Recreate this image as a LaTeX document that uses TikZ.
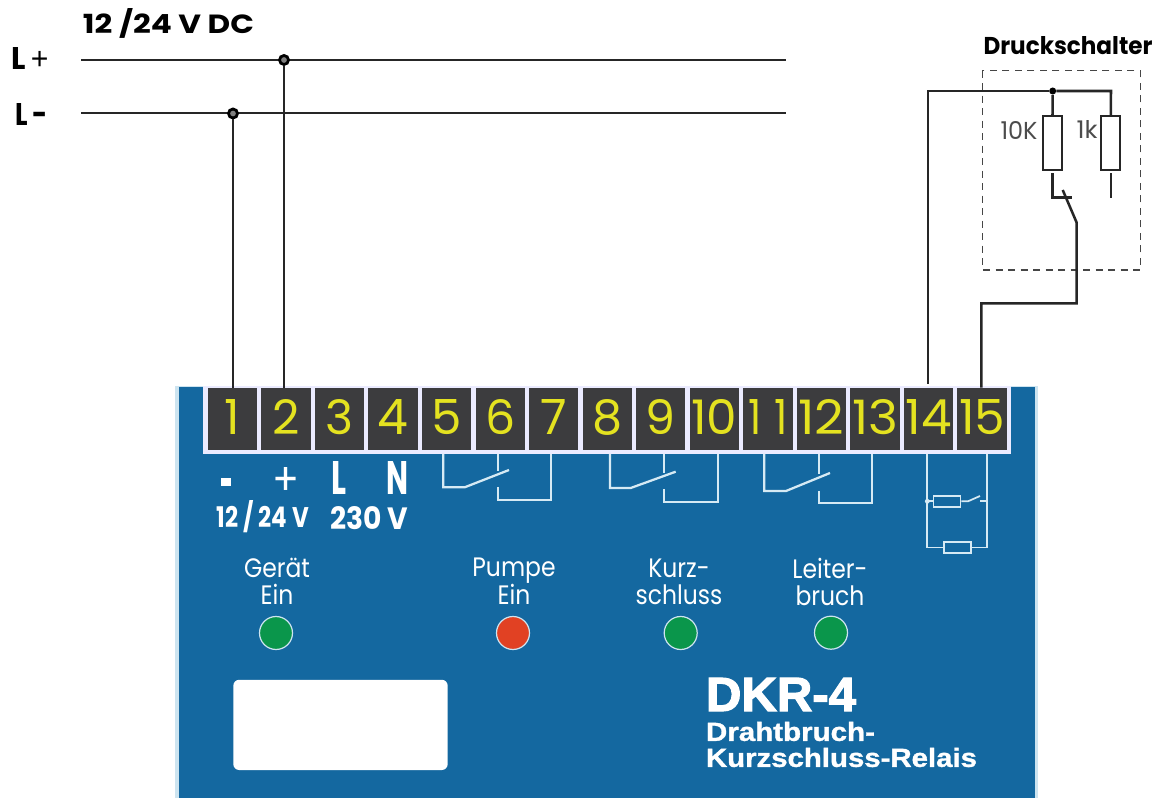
\documentclass[tikz,border=0pt]{standalone}
\usepackage{fontspec}
\usepackage{graphicx}
\setmainfont{Poppins}
\newfontfamily\lib[BoldFeatures={FakeBold=1.2}]{Liberation Sans}
\newfontfamily\libheavy[BoldFeatures={FakeBold=2.5}]{Liberation Sans}
\newfontfamily\plainsans{Liberation Sans}
\newlength\pxu \setlength\pxu{0.75pt}
\newcommand\fitbox[3]{\resizebox{#1\pxu}{#2\pxu}{#3}}
\newcommand\ledtext[2]{\scalebox{0.88}[1]{\fontsize{20}{18.2}\selectfont\begin{tabular}{@{}c@{}}#1\\#2\end{tabular}}}
\definecolor{panelblue}{RGB}{20,104,160}
\definecolor{edgeblue}{RGB}{205,228,240}
\definecolor{tilegray}{RGB}{60,60,62}
\definecolor{digityellow}{RGB}{228,226,32}
\definecolor{symwhite}{RGB}{214,234,244}
\definecolor{ledgreen}{RGB}{10,150,75}
\definecolor{ledred}{RGB}{225,65,35}
\definecolor{dashgray}{RGB}{70,70,70}
\tikzset{
  x=0.75pt,y=-0.75pt,
  wire/.style={draw=black!85,line width=1.9pt,line join=miter},
  sym/.style={draw=symwhite,line width=1.7pt},
  symthin/.style={draw=symwhite,line width=1.3pt},
  tile/.style={fill=tilegray,draw=none,inner sep=0pt,minimum width=49.3\pxu,minimum height=62\pxu},
  digit/.style={text=digityellow,inner sep=0pt,anchor=center},
  res/.style={draw=black!85,line width=1.7pt,fill=white,inner sep=0pt,minimum width=19\pxu,minimum height=54\pxu},
  symres/.style={draw=symwhite,line width=1.3pt,inner sep=0pt,minimum width=27\pxu,minimum height=11\pxu},
  joint/.style={circle,draw=black,fill=black!50,line width=2.1pt,inner sep=0pt,minimum size=9\pxu},
  dot/.style={circle,fill=black,inner sep=0pt,minimum size=7\pxu},
  led/.style={circle,draw=edgeblue,line width=0.9pt,inner sep=0pt,minimum size=33\pxu},
  label/.style={inner sep=0pt,anchor=center},
  paneltext/.style={label,text=white},
}
\begin{document}
\begin{tikzpicture}
\useasboundingbox (0,0) rectangle (1161,798);
% housing
\fill[edgeblue] (175,386) rectangle (1038,798);
\fill[panelblue] (178.5,387.5) rectangle (1035,798);
\fill[white!92!blue] (203,386) rectangle (1011,454.5);
% terminals
\foreach \i in {1,...,15}{
  \pgfmathsetmacro\cx{232.4+53.55*(\i-1)}
  \node[tile] (t\i) at (\cx,419) {};
  \ifnum\i=11
    \node[digit] (d\i) at (\cx,417) {\fitbox{39}{35}{1\hspace{.3em}1}};
  \else\ifnum\i>9
    \node[digit] (d\i) at (\cx,417) {\fitbox{46}{35}{\i}};
  \else
    \node[digit] (d\i) at (\cx,417) {\resizebox{!}{35\pxu}{\i}};
  \fi\fi
}
% supply
\node[label] (supply) at (168.5,23) {\fitbox{171}{25}{\bfseries 12 /24 V DC}};
\node[label] (lplus) at (30,59) {\fitbox{37}{22}{\bfseries L{\plainsans\mdseries\,+}}};
\node[label] (lminus) at (31.5,114.5) {\fitbox{32}{22}{\bfseries L\,-}};
\coordinate (lpa) at (81,60); \coordinate (lpb) at (786,60);
\coordinate (lma) at (81,113); \coordinate (lmb) at (786,113);
\draw[wire] (lpa) -- (lpb);
\draw[wire] (lma) -- (lmb);
\node[joint] (j1) at (233,113.5) {};
\node[joint] (j2) at (284,60) {};
\draw[wire,line width=1.6pt] (j1) -- (j1 |- t1.north);
\draw[wire,line width=1.6pt] (j2) -- (j2 |- t2.north);
% Druckschalter
\node[label] (dtitle) at (1068,46) {\fitbox{169}{18}{\bfseries Druckschalter}};
\draw[dashgray,line width=1.2pt,dash pattern=on 7\pxu off 5.5\pxu] (982.3,70.7) rectangle (1140.3,270);
\node[dot] (j3) at (1052.7,91) {};
\coordinate (c14) at (928,91);
\coordinate (c1k) at (1111,91);
\node[res] (r10) at (1052.5,143) {};
\node[res] (r1k) at (1110.8,143) {};
\node[label,text=black!70] (l10) at (1019,131) {\fitbox{37}{18}{10K}};
\node[label,text=black!70] (l1k) at (1087,130) {\fitbox{21}{18}{1k}};
\draw[wire] (j3) -- (r10.north);
\draw[wire] (j3) -- (c1k) -- (r1k.north);
\draw[wire] (t14.north -| c14) ++(0,-4) -- (c14) -- (j3);
\coordinate (s1) at (1071.7,197.7);
\coordinate (s2) at (1062.7,190);
\coordinate (s3) at (1076.7,222.7);
\coordinate (s4) at (1076.7,303.3);
\coordinate (s5) at (981.3,303.3);
\draw[wire] (r10.south) ++(0,2) -- (1052.5,197.7) -- (s1);
\draw[wire] (r1k.south) ++(0,2) -- (1110.8,198);
\draw[wire] (s2) -- (s3) -- (s4) -- (s5) -- (s5 |- t15.north) -- ++(0,-4);
% relay symbols
\foreach \xa/\xm/\xe/\xs/\ys/\xt/\yt/\yb/\ybb in {
  443.3/498.3/551/464.7/487.3/509/470/487/500,
  610/664/717.7/630.7/488/675.7/471.7/489/501.7,
  764.3/818.7/872.3/786/491/830/473/491/503}{
  \draw[sym] (\xa,454) -- (\xa,\ys) -- (\xs,\ys) -- (\xt,\yt);
  \draw[sym] (\xm,454) -- (\xm,\yt+1);
  \draw[sym] (\xm,\yb) -- (\xm,\ybb) -- (\xe,\ybb) -- (\xe,454);
}
% terminal 14/15 symbol
\node[symres] (rs1) at (947,501.3) {};
\node[symres] (rs2) at (957.6,547.6) {};
\draw[symthin] (927.3,454) -- (927.3,547.6) -- (rs2.west);
\draw[symthin] (987.3,454) -- (987.3,547.6) -- (rs2.east);
\fill[symwhite] (927.3,501.3) circle (2.4);
\draw[symthin] (927.3,501.3) -- (rs1.west);
\draw[symthin] (rs1.east) -- (968,501.3) -- (980,496);
\draw[symthin] (980,501.3) -- (987.3,501.3);
% labels under terminals
\node[paneltext] (lb1) at (226,481.7) {\fitbox{10}{8}{\rule{1em}{.6em}}};
\node[paneltext] (lb2) at (286,481) {\fitbox{27}{28}{+}};
\node[paneltext] (lb3) at (338.5,478) {\fitbox{15}{33}{\bfseries L}};
\node[paneltext] (lb4) at (397,478) {\fitbox{22}{33}{\bfseries N}};
\node[paneltext] (lb5) at (263,517) {\fitbox{92}{27}{\bfseries 12 / 24 V}};
\node[paneltext] (lb6) at (369,518) {\fitbox{78}{23}{\bfseries 230 V}};
% LEDs
\node[paneltext] (tg) at (277,585) {\ledtext{Gerät}{Ein}};
\node[paneltext] (tp) at (514,585) {\ledtext{Pumpe}{Ein}};
\node[paneltext] (tk) at (679,585) {\ledtext{Kurz-}{schluss}};
\node[paneltext] (tl) at (830,585) {\ledtext{Leiter-}{bruch}};
\node[led,fill=ledgreen] (ledg) at (276,633) {};
\node[led,fill=ledred] (ledp) at (513,633) {};
\node[led,fill=ledgreen] (ledk) at (680.7,633) {};
\node[led,fill=ledgreen] (ledl) at (831,632.7) {};
% label window
\node[fill=white,rounded corners=4.5pt,inner sep=0pt,minimum width=214.4\pxu,minimum height=90.3\pxu] (win) at (340.5,724.9) {};
% title
\node[paneltext,anchor=west] (dkr) at (705.7,694.5) {\fitbox{150}{33}{\libheavy\bfseries DKR-4}};
\node[paneltext,anchor=west] (dt1) at (705.7,731.5) {\fitbox{169}{19}{\lib\bfseries Drahtbruch-}};
\node[paneltext,anchor=west] (dt2) at (705.7,757.5) {\fitbox{271}{19}{\lib\bfseries Kurzschluss-Relais}};
\end{tikzpicture}
\end{document}
